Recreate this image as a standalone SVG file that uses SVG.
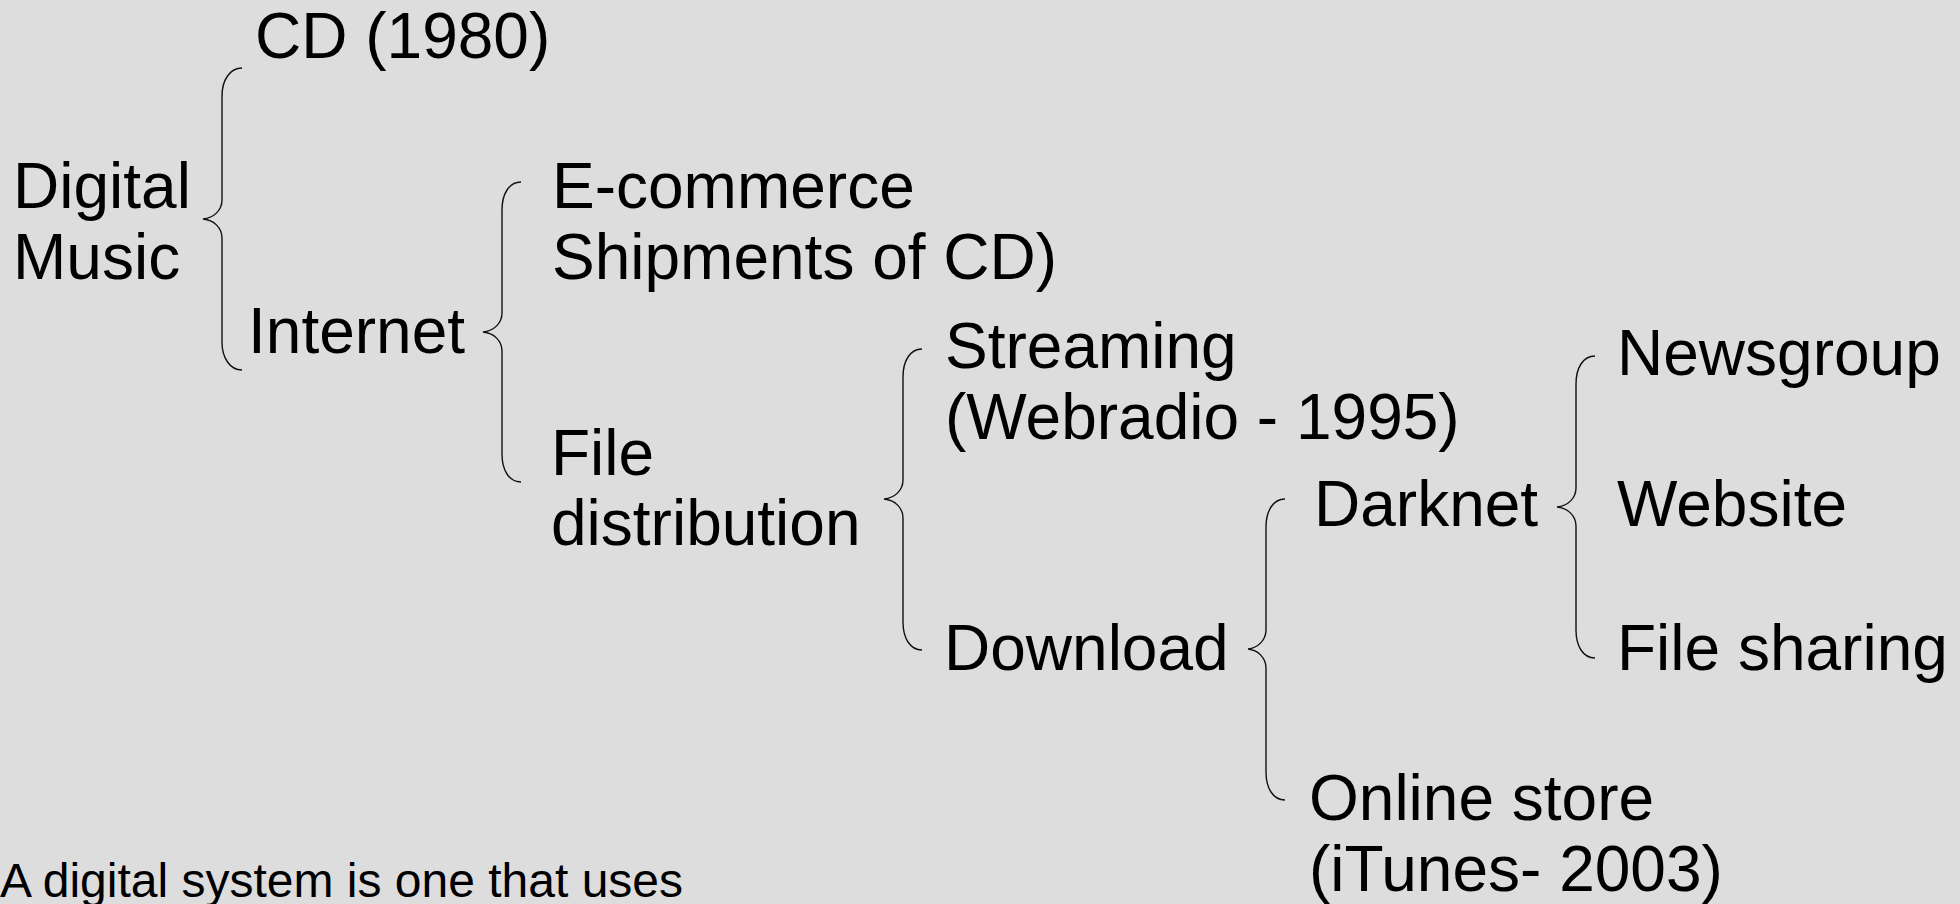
<svg xmlns="http://www.w3.org/2000/svg" width="1960" height="904" viewBox="0 0 1960 904">
  <style>
    .t { font-family: "Liberation Sans", Arial, sans-serif; font-size: 64px; fill: #000; }
    .note { font-family: "Liberation Sans", Arial, sans-serif; font-size: 48px; fill: #000; }
    .brace { fill: none; stroke: #111; stroke-width: 1.4; }
  </style>
  <rect width="1960" height="904" fill="#dddddd"/>

  <!-- curly braces linking each term to its sub-terms -->
  <g id="connectors">
    <path class="brace" d="M242,68 C230,68 222,80 222,96 L222,200 C222,210 214,218 203,219 C214,220 222,228 222,238 L222,342 C222,358 230,370 242,370"/>
    <path class="brace" d="M521,182 C509,182 502,194 502,210 L502,313 C502,323 494,331 483,332 C494,333 502,341 502,351 L502,454 C502,470 509,482 521,482"/>
    <path class="brace" d="M922,349 C910,349 903,361 903,377 L903,480 C903,490 895,498 884,499 C895,500 903,508 903,518 L903,622 C903,638 910,650 922,650"/>
    <path class="brace" d="M1285,499 C1273,499 1266,511 1266,527 L1266,630 C1266,640 1258,648 1248,649 C1258,650 1266,658 1266,668 L1266,772 C1266,788 1273,800 1285,800"/>
    <path class="brace" d="M1595,356 C1583,356 1576,368 1576,384 L1576,488 C1576,498 1568,506 1557,507 C1568,508 1576,516 1576,526 L1576,630 C1576,646 1583,658 1595,658"/>
  </g>

  <g id="digital-music"><text class="t" x="13" y="208">Digital</text><text class="t" x="13" y="279">Music</text></g>
  <g id="cd"><text class="t" x="255" y="58">CD (1980)</text></g>
  <g id="internet"><text class="t" x="248" y="353">Internet</text></g>
  <g id="ecommerce"><text class="t" x="552" y="208">E-commerce</text><text class="t" x="552" y="279">Shipments of CD)</text></g>
  <g id="file-distribution"><text class="t" x="551" y="475">File</text><text class="t" x="551" y="545">distribution</text></g>
  <g id="streaming"><text class="t" x="945" y="368">Streaming</text><text class="t" x="945" y="439">(Webradio - 1995)</text></g>
  <g id="download"><text class="t" x="944" y="670">Download</text></g>
  <g id="darknet"><text class="t" x="1314" y="526">Darknet</text></g>
  <g id="online-store"><text class="t" x="1309" y="820">Online store</text><text class="t" x="1309" y="891">(iTunes- 2003)</text></g>
  <g id="newsgroup"><text class="t" x="1617" y="375">Newsgroup</text></g>
  <g id="website"><text class="t" x="1617" y="526">Website</text></g>
  <g id="file-sharing"><text class="t" x="1617" y="670">File sharing</text></g>

  <g id="caption"><text class="note" x="0" y="897">A digital system is one that uses</text></g>
</svg>
